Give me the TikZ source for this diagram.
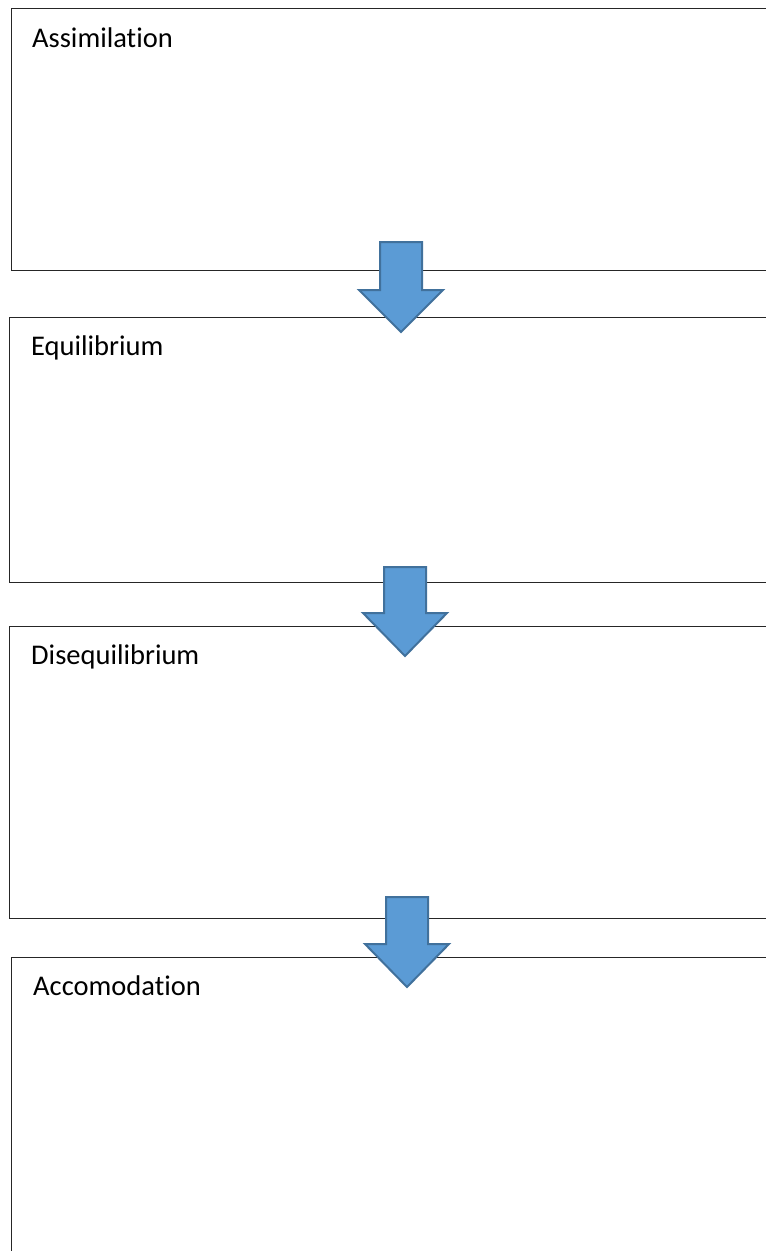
\documentclass[tikz,border=0pt]{standalone}
\usepackage{fontspec}
\setmainfont[Ligatures={NoCommon,NoRare}]{Carlito}
\begin{document}
\begin{tikzpicture}[x=1pt,y=-1pt,
  stagebox/.style={draw=black!85, line width=1.4pt, fill=white, rectangle, anchor=north west, minimum width=800pt, inner sep=0pt},
  stagelabel/.style={anchor=base west, inner sep=0pt, font=\fontsize{28.5}{34}\selectfont},
  blockarrow/.style={fill={rgb,255:red,91;green,155;blue,213}, draw={rgb,255:red,65;green,113;blue,156}, line width=2pt, line join=miter}]
\useasboundingbox (0,0) rectangle (766,1251);
\clip (0,0) rectangle (766,1251);
% boxes
\node[stagebox, minimum height=262pt] (b1) at (11,8) {};
\node[stagebox, minimum height=265pt] (b2) at (9,317) {};
\node[stagebox, minimum height=292pt] (b3) at (9,626) {};
\node[stagebox, minimum height=400pt] (b4) at (11,957) {};
% labels
\node[stagelabel] (l1) at (32,47) {Assimilation};
\node[stagelabel] (l2) at (31,355) {Equilibrium};
\node[stagelabel] (l3) at (31,664) {Disequilibrium};
\node[stagelabel] (l4) at (33,995) {Accomodation};
% arrows
\draw[blockarrow] (380,242) -- (422,242) -- (422,290) -- (443,290) -- (401,332) -- (359,290) -- (380,290) -- cycle;
\draw[blockarrow] (384,567) -- (426,567) -- (426,613) -- (447,613) -- (405,656) -- (363,613) -- (384,613) -- cycle;
\draw[blockarrow] (386,897) -- (428,897) -- (428,944) -- (449,944) -- (407,987) -- (365,944) -- (386,944) -- cycle;
\end{tikzpicture}
\end{document}
